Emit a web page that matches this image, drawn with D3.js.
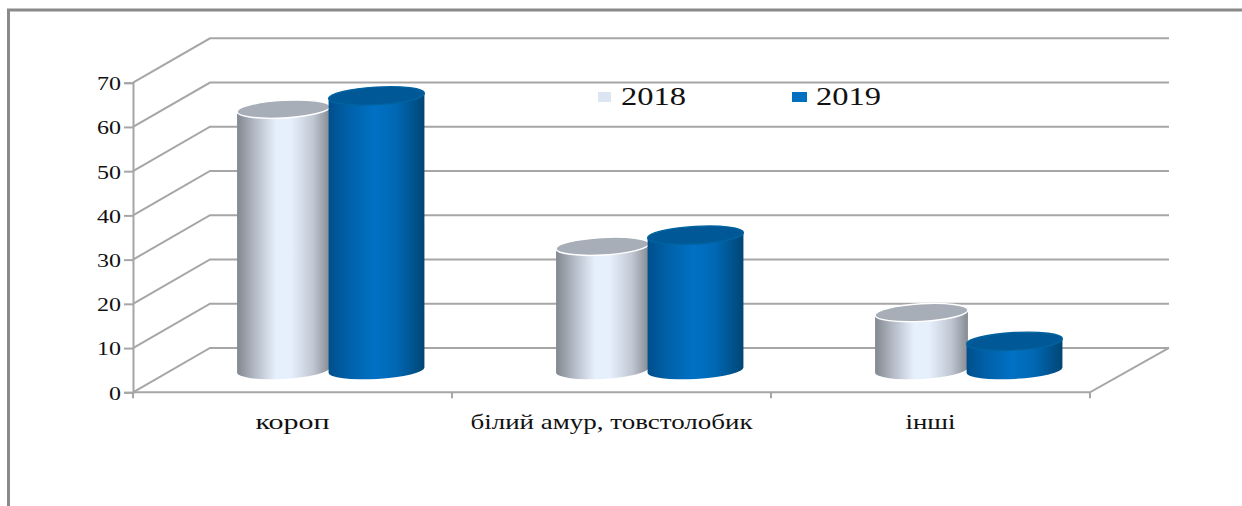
<!DOCTYPE html>
<html>
<head>
<meta charset="utf-8">
<script src="https://cdn.jsdelivr.net/npm/d3@7/dist/d3.min.js"></script>
<style>
html,body{margin:0;padding:0;background:#fff;overflow:hidden}
svg{display:block}
text{font-family:"Liberation Serif",serif;fill:#111}
</style>
</head>
<body>
<svg id="chart" width="1242" height="506"></svg>
<script>
// Fish catch shares by group, two years, drawn as 3D-style cylinders
const categories = ["короп", "білий амур, товстолобик", "інші"];
const years = ["2018", "2019"];
const values2018 = [59, 28, 13];
const values2019 = [62, 30.5, 6.5];
const yTicks = [0, 10, 20, 30, 40, 50, 60, 70];

const svg = d3.select("#chart");
const depth = {dx: 77, dy: -44.4};
const floorY = 392.3;
const y = d3.scaleLinear().domain([0, 70]).range([floorY, 82.7]);
const x = d3.scaleBand().domain(categories).range([133, 1090]);
const series = d3.scalePoint().domain(years).range([-47.5, 45.5]);
const gridColor = "#a6a6a6";

// Outer frame: top and left edges only
svg.append("path").attr("d", "M8.5,506V10H1242").attr("fill", "none")
  .attr("stroke", "#8a8a8a").attr("stroke-width", 3);

// Back wall lines and their slanted continuation on the side wall
const grid = svg.append("g").attr("fill", "none").attr("stroke", gridColor).attr("stroke-width", 2);
yTicks.forEach(t => {
  const yy = y(t);
  grid.append("path").attr("d",
    `M${x.range()[0]},${yy}L${x.range()[0] + depth.dx},${yy + depth.dy}H${x.range()[1] + 79}`);
});
// Floor front edge and right edge
grid.append("path").attr("d",
  `M${x.range()[0]},${floorY}H${x.range()[1]}L${x.range()[1] + 79},${floorY + depth.dy}`);

// Value axis
const yAxis = svg.append("g").attr("transform", "translate(133,0)")
  .call(d3.axisLeft(y).tickValues(yTicks).tickSize(9).tickPadding(3));
yAxis.select(".domain").attr("stroke", gridColor).attr("stroke-width", 2);
yAxis.selectAll(".tick line").attr("stroke", gridColor).attr("stroke-width", 2);
yAxis.selectAll("text")
  .style("font-family", '"Liberation Serif",serif')
  .style("font-size", "19px")
  .attr("y", 0.8)
  .attr("textLength", d => d === 0 ? 12 : 24)
  .attr("lengthAdjust", "spacingAndGlyphs");

// Category axis: ticks at band boundaries, labels centred under the bands
const boundaries = categories.map(c => x(c)).concat([x.range()[1]]);
svg.append("g").selectAll("line").data(boundaries).join("line")
  .attr("x1", d => d).attr("x2", d => d)
  .attr("y1", floorY).attr("y2", floorY + 6)
  .attr("stroke", gridColor).attr("stroke-width", 2);
const labelWidths = [74, 282, 50];
svg.append("g").selectAll("text").data(categories).join("text")
  .attr("x", d => x(d) + x.bandwidth() / 2)
  .attr("y", 429)
  .attr("text-anchor", "middle")
  .attr("font-size", 21)
  .attr("textLength", (d, i) => labelWidths[i])
  .attr("lengthAdjust", "spacingAndGlyphs")
  .text(d => d);

// Cylinder shading
const defs = svg.append("defs");
function shade(id, stops) {
  const g = defs.append("linearGradient").attr("id", id);
  stops.forEach(([o, c]) => g.append("stop").attr("offset", o).attr("stop-color", c));
}
shade("body2018", [[0, "#83888f"], [0.2, "#b5bcc8"], [0.42, "#e6f0fc"], [0.58, "#e6f0fc"], [0.82, "#c0c7d3"], [1, "#868b92"]]);
shade("body2019", [[0, "#004f8c"], [0.2, "#0060a8"], [0.48, "#0071c4"], [0.7, "#0068b4"], [1, "#004675"]]);
const palette = {
  "2018": {body: "url(#body2018)", top: "#a8aeb8", rim: "#ffffff", rx: 46.5},
  "2019": {body: "url(#body2019)", top: "#005897", rim: "#00629f", rx: 48}
};

const tilt = -3.2;                // ellipses lean slightly in the projection
const ry = 8.8;
const rad = tilt * Math.PI / 180;
const baseY = floorY + depth.dy / 2;

// One cylinder body: two tilted half ellipses joined by straight sides
function cylinder(g, cx, topY, style) {
  const rx = style.rx;
  const sx = rx * Math.cos(rad), sy = rx * Math.sin(rad);
  g.append("path")
    .attr("d", `M${cx - sx},${topY - sy}L${cx - sx},${baseY - sy}`
      + `A${rx},${ry} ${tilt} 0 0 ${cx + sx},${baseY + sy}`
      + `L${cx + sx},${topY + sy}`
      + `A${rx},${ry} ${tilt} 0 1 ${cx - sx},${topY - sy}Z`)
    .attr("fill", style.body);
  g.append("ellipse")
    .attr("rx", rx).attr("ry", ry)
    .attr("transform", `translate(${cx},${topY}) rotate(${tilt})`)
    .attr("fill", style.top)
    .attr("stroke", style.rim).attr("stroke-width", 1.4);
}

const marks = svg.append("g");
categories.forEach((c, i) => {
  const centre = x(c) + x.bandwidth() / 2 + depth.dx / 2;
  [[years[0], values2018[i]], [years[1], values2019[i]]].forEach(([yr, v]) => {
    cylinder(marks, centre + series(yr), y(v) + depth.dy / 2, palette[yr]);
  });
});

// Legend
const legendX = [598, 792];
const legendColors = ["#dce6f2", "#0070c0"];
const legend = svg.append("g").selectAll("g").data(years).join("g")
  .attr("transform", (d, i) => `translate(${legendX[i]},0)`);
legend.append("rect").attr("y", 92).attr("width", (d, i) => i ? 15 : 13).attr("height", 10)
  .attr("fill", (d, i) => legendColors[i]);
legend.append("text").attr("x", (d, i) => i ? 24 : 23).attr("y", 105)
  .attr("font-size", 25)
  .attr("textLength", 65).attr("lengthAdjust", "spacingAndGlyphs")
  .text(d => d);
</script>
</body>
</html>
